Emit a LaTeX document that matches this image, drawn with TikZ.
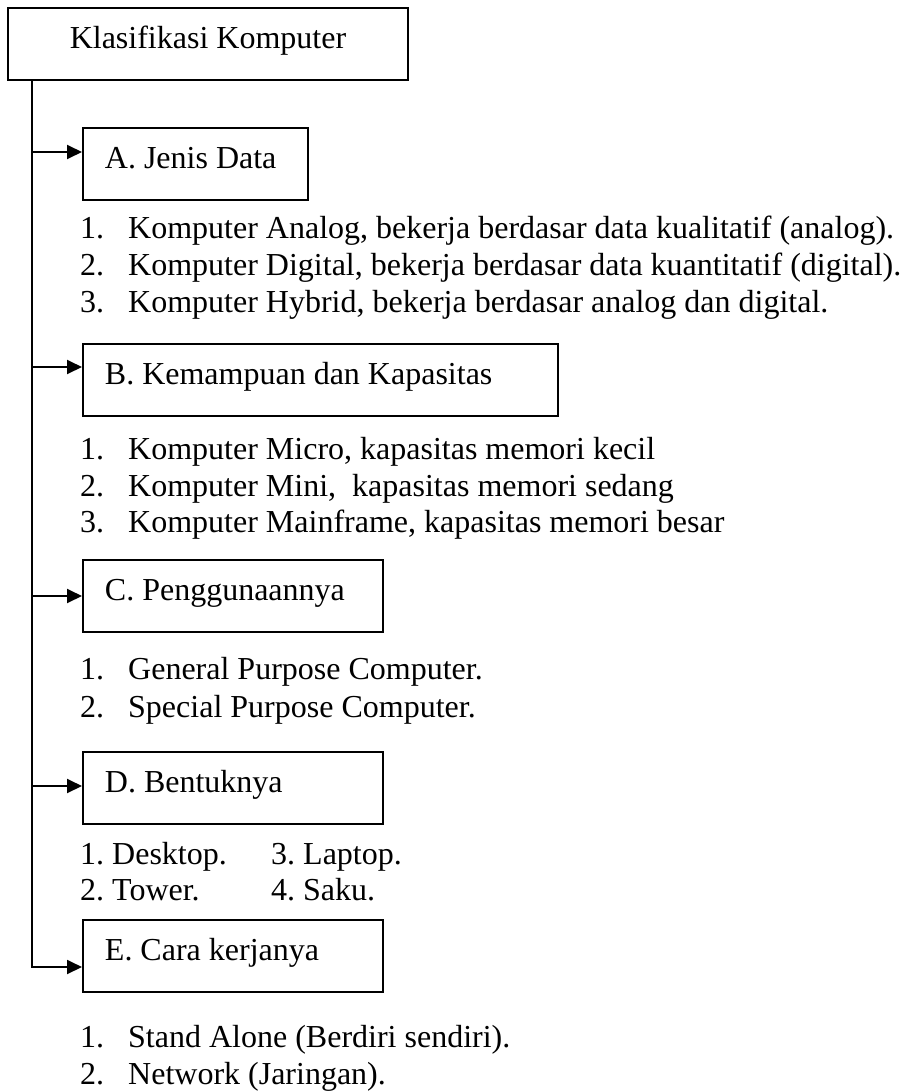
\documentclass[tikz,border=0pt]{standalone}
\usepackage{fontspec}
\setmainfont{Liberation Serif}
\usetikzlibrary{arrows.meta}
\tikzset{
  every node/.style={font=\fontsize{32}{37}\selectfont\frenchspacing},
  catbox/.style={draw, line width=1.9pt, anchor=north west, inner xsep=0pt, inner ysep=0pt,
    text height=41pt, text depth=31pt, align=flush left},
  listline/.style={anchor=base west, inner sep=0pt},
  trunk/.style={line width=1.9pt},
  arr/.style={line width=1.9pt, -{Triangle[length=15pt,width=14pt]}}
}
\newcommand{\num}[1]{\makebox[48pt][l]{#1}}
\begin{document}
\begin{tikzpicture}[x=1pt,y=-1pt]
\useasboundingbox (0,0) rectangle (901,1092);
% title
\node[draw, line width=1.9pt, anchor=north west, minimum width=400pt, inner xsep=0pt, inner ysep=0pt,
  text height=41pt, text depth=31pt] (title) at (7,7) {Klasifikasi Komputer};
% boxes
\node[catbox, text width=225pt] (A) at (82,127) {\hspace*{22pt}A. Jenis Data};
\node[catbox, text width=475pt] (B) at (82,343) {\hspace*{22pt}B. Kemampuan dan Kapasitas};
\node[catbox, text width=300pt] (C) at (82,559) {\hspace*{22pt}C. Penggunaannya};
\node[catbox, text width=300pt] (D) at (82,751) {\hspace*{22pt}D. Bentuknya};
\node[catbox, text width=300pt] (E) at (82,919) {\hspace*{22pt}E. Cara kerjanya};
% trunk and arrows
\coordinate (t0) at (32,79);
\coordinate (ta) at (32,152);
\coordinate (tb) at (32,367);
\coordinate (tc) at (32,596);
\coordinate (td) at (32,786);
\coordinate (te) at (32,967);
\draw[trunk] (t0) -- (te);
\draw[arr] (ta) -- (ta -| A.west);
\draw[arr] (tb) -- (tb -| B.west);
\draw[arr] (tc) -- (tc -| C.west);
\draw[arr] (td) -- (td -| D.west);
\draw[arr] ([xshift=-0.95pt]te) -- (te -| E.west);
% list A
\node[listline] (a1) at (80,238) {\num{1.}Komputer Analog, bekerja berdasar data kualitatif (analog).};
\node[listline] (a2) at (80,275) {\num{2.}Komputer Digital, bekerja berdasar data kuantitatif (digital).};
\node[listline] (a3) at (80,312) {\num{3.}Komputer Hybrid, bekerja berdasar analog dan digital.};
% list B
\node[listline] (b1) at (80,459) {\num{1.}Komputer Micro, kapasitas memori kecil};
\node[listline] (b2) at (80,496) {\num{2.}Komputer Mini,\ \ kapasitas memori sedang};
\node[listline] (b3) at (80,532) {\num{3.}Komputer Mainframe, kapasitas memori besar};
% list C
\node[listline] (c1) at (80,679) {\num{1.}General Purpose Computer.};
\node[listline] (c2) at (80,717) {\num{2.}Special Purpose Computer.};
% list D
\node[listline] (d1) at (80,864) {1. Desktop.};
\node[listline] (d2) at (80,900) {2. Tower.};
\node[listline] (d3) at (271,864) {3. Laptop.};
\node[listline] (d4) at (271,900) {4. Saku.};
% list E
\node[listline] (e1) at (80,1047) {\num{1.}Stand Alone (Berdiri sendiri).};
\node[listline] (e2) at (80,1084) {\num{2.}Network (Jaringan).};
\end{tikzpicture}
\end{document}
